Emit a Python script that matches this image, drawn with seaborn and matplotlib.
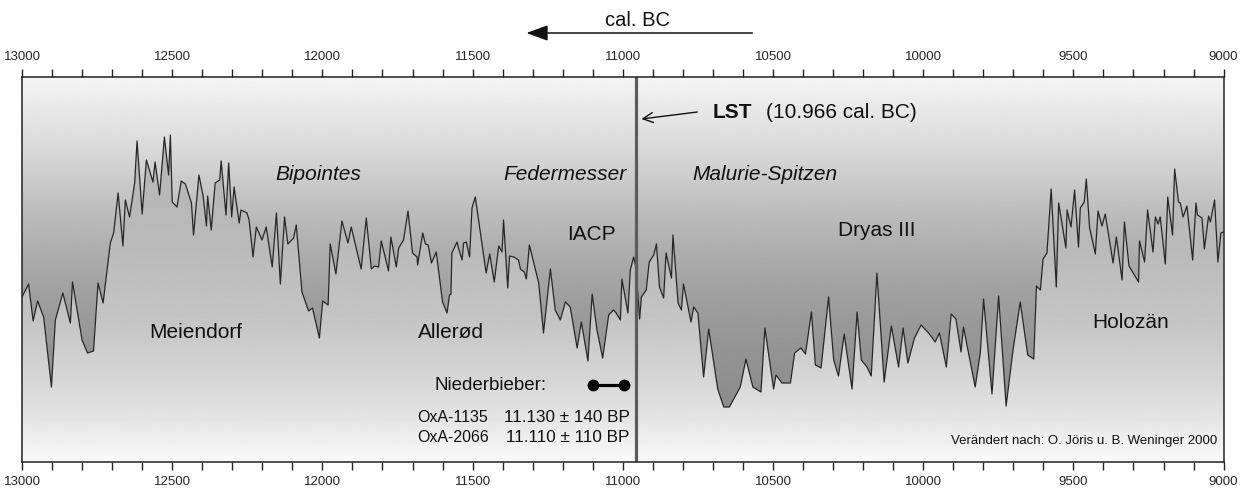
import numpy as np
import matplotlib
matplotlib.use("Agg")
import matplotlib.pyplot as plt
import seaborn as sns

# climate curve (relative units, warmer = higher)
years = [13000, 12978, 12963, 12948, 12928, 12902, 12889, 12864, 12839, 12832,
         12800, 12782, 12762, 12747, 12730, 12706, 12695, 12680, 12664, 12656,
         12642, 12625, 12617, 12600, 12586, 12564, 12557, 12542, 12526, 12512,
         12506, 12500, 12484, 12470, 12456, 12436, 12429, 12411, 12397, 12386,
         12382, 12370, 12357, 12342, 12337, 12321, 12312, 12302, 12294, 12277,
         12271, 12251, 12244, 12231, 12220, 12201, 12187, 12167, 12153, 12140,
         12126, 12115, 12096, 12087, 12068, 12046, 12033, 12010, 11999, 11981,
         11974, 11955, 11935, 11915, 11904, 11871, 11854, 11837, 11826, 11813,
         11804, 11780, 11772, 11754, 11746, 11730, 11715, 11700, 11685, 11683,
         11666, 11657, 11648, 11637, 11621, 11600, 11585, 11577, 11572, 11569,
         11552, 11547, 11535, 11530, 11521, 11510, 11502, 11491, 11474, 11455,
         11443, 11428, 11413, 11402, 11397, 11383, 11377, 11363, 11347, 11341,
         11328, 11321, 11311, 11280, 11264, 11241, 11225, 11208, 11191, 11175,
         11152, 11138, 11116, 11102, 11086, 11067, 11047, 11031, 11022, 11008,
         11003, 10983, 10975, 10964, 10956, 10944, 10938, 10922, 10912, 10897,
         10888, 10878, 10864, 10856, 10838, 10833, 10816, 10805, 10798, 10773,
         10764, 10750, 10731, 10714, 10684, 10664, 10645, 10609, 10590, 10567,
         10540, 10527, 10498, 10490, 10470, 10442, 10428, 10407, 10392, 10372,
         10359, 10340, 10315, 10298, 10282, 10263, 10237, 10220, 10206, 10187,
         10173, 10154, 10130, 10106, 10082, 10067, 10051, 10029, 10007, 9982,
         9960, 9946, 9923, 9907, 9891, 9874, 9866, 9827, 9810, 9799,
         9771, 9749, 9724, 9701, 9677, 9652, 9632, 9623, 9610, 9601,
         9588, 9574, 9557, 9549, 9525, 9521, 9508, 9496, 9483, 9477,
         9464, 9457, 9446, 9427, 9418, 9405, 9394, 9368, 9357, 9338,
         9330, 9315, 9283, 9280, 9263, 9253, 9235, 9227, 9218, 9211,
         9194, 9186, 9170, 9163, 9150, 9144, 9135, 9122, 9103, 9092,
         9087, 9072, 9064, 9050, 9044, 9030, 9019, 9009, 9000]
signal = [165, 178, 141, 161, 145, 75, 142, 169, 139, 180,
          122, 109, 111, 179, 159, 219, 229, 269, 216, 262,
          245, 279, 321, 248, 302, 280, 300, 267, 325, 287,
          327, 260, 255, 281, 278, 259, 227, 287, 266, 236,
          266, 232, 279, 282, 301, 247, 299, 245, 275, 239,
          252, 249, 242, 205, 235, 222, 235, 195, 249, 178,
          245, 218, 224, 237, 170, 151, 154, 124, 161, 157,
          218, 188, 241, 219, 235, 193, 244, 193, 196, 195,
          221, 191, 225, 195, 214, 222, 251, 209, 205, 197,
          229, 218, 217, 199, 210, 160, 149, 167, 168, 209,
          220, 214, 202, 219, 220, 205, 254, 265, 229, 189,
          208, 180, 216, 210, 242, 174, 206, 205, 202, 193,
          190, 183, 217, 179, 129, 193, 152, 142, 160, 155,
          114, 140, 101, 168, 132, 104, 147, 152, 149, 142,
          183, 149, 192, 205, 194, 143, 165, 172, 200, 207,
          218, 175, 164, 209, 184, 227, 159, 152, 178, 140,
          155, 149, 85, 133, 73, 55, 55, 75, 103, 75,
          70, 134, 73, 87, 79, 79, 109, 114, 108, 150,
          97, 94, 165, 102, 86, 128, 73, 150, 102, 95,
          86, 189, 80, 136, 95, 134, 99, 124, 137, 129,
          120, 129, 95, 148, 143, 110, 135, 75, 109, 163,
          68, 166, 56, 112, 160, 107, 103, 176, 172, 203,
          209, 273, 175, 259, 214, 252, 235, 272, 215, 254,
          260, 283, 234, 208, 251, 236, 248, 199, 225, 182,
          240, 196, 180, 221, 200, 252, 210, 245, 238, 245,
          198, 265, 227, 293, 260, 259, 245, 256, 202, 259,
          247, 244, 213, 246, 240, 262, 200, 229, 230]

lst_year = 10955
niederbieber = [11099, 10995]
major_ticks = list(range(9000, 13001, 500))
phases = ["Meiendorf", "Allerød", "IACP", "Dryas III", "Holozän"]
phase_pos = [(12420, 130), (11571, 130), (11105, 228), (10156, 231), (9311, 139)]
cultures = ["Bipointes", "Federmesser", "Malurie-Spitzen"]
culture_pos = [12014, 11191, 10526]
dates = [("OxA-1135", "11.130 ± 140 BP"), ("OxA-2066", "11.110 ± 110 BP")]

sns.set_theme(style="white")
plt.rcParams["font.family"] = ["Liberation Sans", "DejaVu Sans"]

fig = plt.figure(figsize=(12.46, 4.92), dpi=100)
ax = fig.add_axes([22 / 1246, 30 / 492, 1201.6 / 1246, 385 / 492])
ymax = 385

# two vertical gradients, one above and one below the curve
rows = np.linspace(0, ymax, 500)
grad_up = np.interp(rows, [0, 42, 112, 162, 212, 262, 312, 385],
                    [0.53, 0.54, 0.58, 0.62, 0.68, 0.76, 0.85, 0.96])
grad_lo = np.interp(rows, [0, 42, 82, 142, 212, 332, 385],
                    [0.98, 0.90, 0.84, 0.77, 0.73, 0.71, 0.71])

poly_up = ax.fill_between(years, signal, ymax, facecolor="none", edgecolor="none")
poly_lo = ax.fill_between(years, signal, 0, facecolor="none", edgecolor="none")
for grad, poly in [(grad_up, poly_up), (grad_lo, poly_lo)]:
    im = ax.imshow(grad[:, None], extent=(13000, 9000, 0, ymax), origin="lower",
                   cmap="gray", vmin=0, vmax=1, aspect="auto", interpolation="bilinear")
    im.set_clip_path(poly.get_paths()[0], transform=ax.transData)

sns.lineplot(x=years, y=signal, ax=ax, color="#262626", linewidth=0.9,
             estimator=None, sort=False)
ax.axvline(lst_year, color="#5c5c5c", lw=2.3)

ax.set_xlim(13000, 9000)
ax.set_ylim(0, ymax)
ax.set_xticks(major_ticks, labels=[str(t) for t in major_ticks])
ax.set_xticks(range(9000, 13001, 100), minor=True)
ax.set_yticks([])
ax.tick_params(axis="x", which="both", direction="out", length=6, width=1.0,
               color="#222222", top=True, bottom=True, labeltop=True,
               labelbottom=True, labelsize=9.5, pad=4)
for sp in ax.spines.values():
    sp.set_color("#222222")
    sp.set_linewidth(1.1)

# labels
for name, (x, y) in zip(phases, phase_pos):
    ax.text(x, y, name, ha="center", va="center", fontsize=15, color="#111111")
for name, x in zip(cultures, culture_pos):
    ax.text(x, 287, name, ha="center", va="center", fontsize=15,
            style="italic", color="#111111")

ax.text(10702, 349, "LST", ha="left", va="center", fontsize=15,
        fontweight="bold", color="#111111")
ax.text(10522, 349, "(10.966 cal. BC)", ha="left", va="center", fontsize=15,
        color="#111111")
ax.annotate("", xy=(10938, 343), xytext=(10752, 350),
            arrowprops=dict(arrowstyle="->,head_length=0.6,head_width=0.3",
                            color="#111111", lw=1.0, shrinkA=0, shrinkB=0))

ax.text(10952, 442, "cal. BC", ha="center", va="center", fontsize=14.5,
        color="#111111")
ax.annotate("", xy=(11321, 429), xytext=(10569, 429), annotation_clip=False,
            arrowprops=dict(arrowstyle="-|>,head_length=1.1,head_width=0.4",
                            color="#111111", lw=1.1, shrinkA=0, shrinkB=0,
                            mutation_scale=12))

ax.text(11628, 77, "Niederbieber:", ha="left", va="center", fontsize=13.5,
        color="#111111")
ax.plot(niederbieber, [77, 77], color="black", lw=2.3, marker="o", ms=7.5)
for i, (lab, val) in enumerate(dates):
    yy = 44 - 20 * i
    ax.text(11684, yy, lab, ha="left", va="center", fontsize=11.5, color="#111111")
    ax.text(10978, yy, val, ha="right", va="center", fontsize=12.3, color="#111111")

ax.text(9021, 21, "Verändert nach: O. Jöris u. B. Weninger 2000", ha="right",
        va="center", fontsize=9.5, color="#111111")

fig.savefig("out.png", dpi=100)
